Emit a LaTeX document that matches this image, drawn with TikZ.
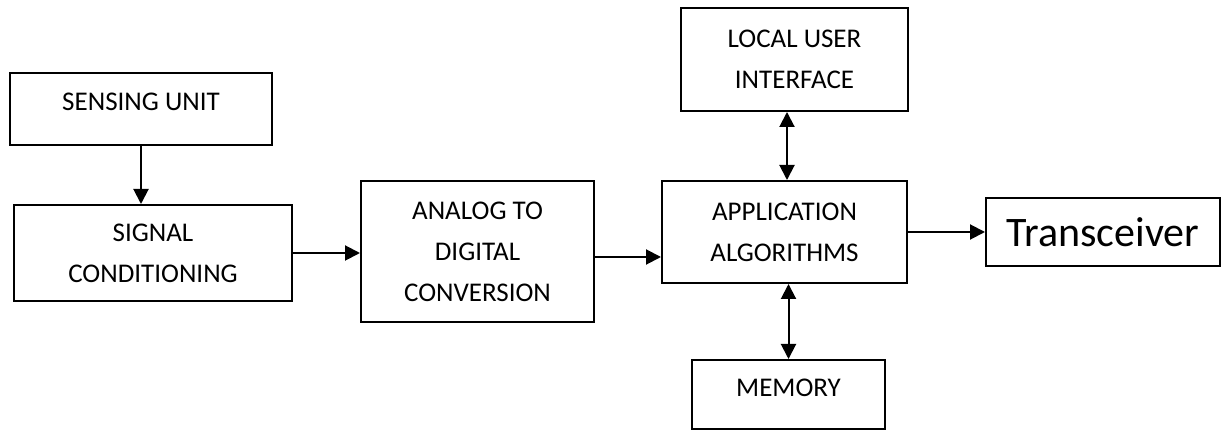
\documentclass[tikz,border=0pt]{standalone}
\usepackage{fontspec}
\setmainfont{Carlito}
\usetikzlibrary{arrows.meta}

\tikzset{
    block/.style={draw, line width=1pt, align=center,
        font=\fontsize{13.5}{20.5}\selectfont},
    arr/.style={line width=1pt, -{Triangle[length=7.5pt,width=7.5pt]}},
    biarr/.style={line width=1pt, {Triangle[length=7.5pt,width=7.5pt]}-{Triangle[length=7.5pt,width=7.5pt]}}
}

\begin{document}
\begin{tikzpicture}[x=0.5pt,y=-0.5pt]
    \useasboundingbox (0,0) rectangle (1221,432);

    \node[block, minimum width=131pt, minimum height=36pt, text depth=7pt] (sensing) at (141,109) {SENSING UNIT};
    \node[block, minimum width=139pt, minimum height=48pt] (signal) at (153,253) {SIGNAL\\CONDITIONING};
    \node[block, minimum width=116.5pt, minimum height=70.5pt] (adc) at (477.5,251.5) {ANALOG TO\\DIGITAL\\CONVERSION};
    \node[block, minimum width=122.5pt, minimum height=51pt] (app) at (784.5,232) {APPLICATION\\ALGORITHMS};
    \node[block, minimum width=113.5pt, minimum height=51.5pt] (lui) at (794.5,59.5) {LOCAL USER\\INTERFACE};
    \node[block, minimum width=96.5pt, minimum height=34.5pt, text depth=7pt] (mem) at (788.5,394.5) {MEMORY};
    \node[block, minimum width=117pt, minimum height=34pt, font=\fontsize{21}{25}\selectfont] (trans) at (1103,232) {Transceiver};

    \draw[arr] (sensing.south) -- (sensing.south |- signal.north);
    \draw[arr] (signal.east) -- (signal.east -| adc.west);
    \draw[arr] ([yshift=-2.75pt]adc.east) -- ([yshift=-2.75pt]adc.east -| app.west);
    \draw[biarr] ([xshift=1.25pt]app.north) -- ([xshift=1.25pt]app.north |- lui.south);
    \draw[biarr] (app.south -| mem.north) -- (mem.north);
    \draw[arr] (app.east) -- (trans.west);
\end{tikzpicture}
\end{document}
